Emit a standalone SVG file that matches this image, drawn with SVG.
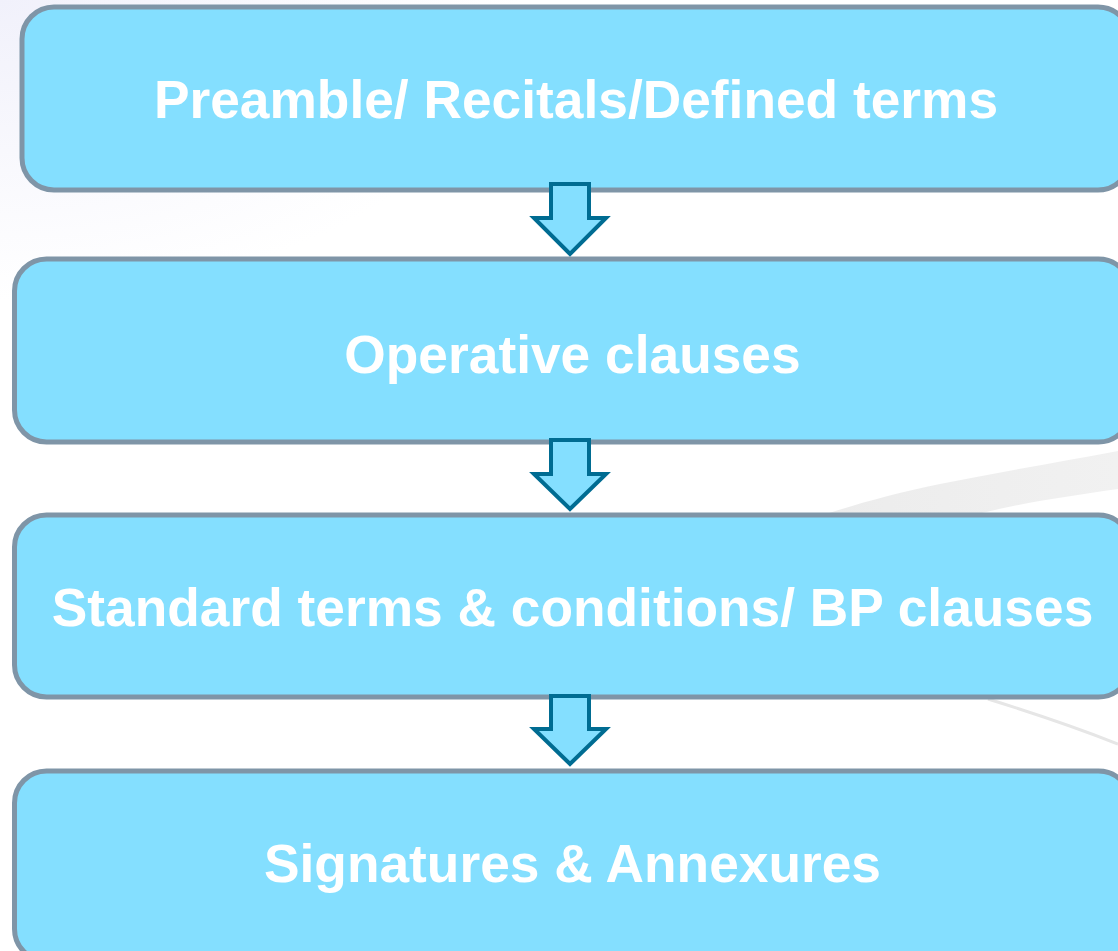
<svg xmlns="http://www.w3.org/2000/svg" width="1118" height="951" viewBox="0 0 1118 951">
<defs>
<radialGradient id="bg" cx="0" cy="0" r="1" gradientUnits="userSpaceOnUse" gradientTransform="translate(0,0) scale(520,300)">
<stop offset="0" stop-color="#f1f1fb"/>
<stop offset="1" stop-color="#ffffff"/>
</radialGradient>
<linearGradient id="sw" x1="830" y1="0" x2="1118" y2="0" gradientUnits="userSpaceOnUse">
<stop offset="0" stop-color="#ececec"/>
<stop offset="1" stop-color="#f1f1f1"/>
</linearGradient>
<style>
.box{fill:#84dfff;stroke:#7f95a7;stroke-width:5}
.lbl{font-family:"Liberation Sans",Arial,sans-serif;font-weight:bold;font-size:53.3px;fill:#ffffff;text-anchor:middle}
.arr{fill:#84dfff;stroke:#006c92;stroke-width:4;stroke-linejoin:miter}
</style>
</defs>
<rect x="0" y="0" width="1118" height="951" fill="#ffffff"/>
<rect x="0" y="0" width="1118" height="951" fill="url(#bg)"/>
<g id="background-swoosh">
<path d="M826,514 C860,503 900,492 940,484 C1000,472 1060,462 1118,451 L1118,489 C1070,496 1020,503 978,514 Z" fill="url(#sw)"/>
<path d="M988,699 C1030,712 1075,727 1118,744" fill="none" stroke="#e6e6e6" stroke-width="3"/>
</g>
<g id="node-preamble">
<rect class="box" x="22" y="7" width="1108" height="183" rx="32" ry="32"/>
<text class="lbl" x="576" y="118">Preamble/ Recitals/Defined terms</text>
</g>
<g id="node-operative">
<rect class="box" x="14.5" y="259" width="1116" height="183" rx="32" ry="32"/>
<text class="lbl" x="572.5" y="373">Operative clauses</text>
</g>
<g id="node-standard">
<rect class="box" x="14.5" y="515" width="1116" height="182" rx="32" ry="32"/>
<text class="lbl" x="572.5" y="626">Standard terms &amp; conditions/ BP clauses</text>
</g>
<g id="node-signatures">
<rect class="box" x="14.5" y="771" width="1116" height="190" rx="32" ry="32"/>
<text class="lbl" x="572.5" y="882">Signatures &amp; Annexures</text>
</g>
<g id="connectors">
<polygon class="arr" points="551,184 589,184 589,218 606,218 570,254 534,218 551,218"/>
<polygon class="arr" points="551,440 589,440 589,474 606,474 570,509 534,474 551,474"/>
<polygon class="arr" points="551,696 589,696 589,729 606,729 570,764 534,729 551,729"/>
</g>
</svg>
